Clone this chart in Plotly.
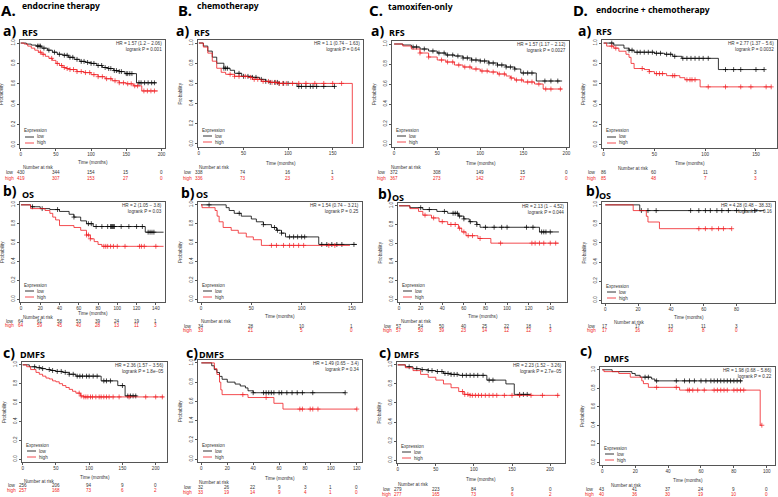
import plotly.graph_objects as go

W, H = 778, 497

# ===================== DATA =====================
# ---- A. endocrine therapy ----
A_RFS_low_t = [0, 8, 15, 22, 30, 38, 45, 52, 60, 68, 76, 84, 92, 100, 108, 116, 124, 132, 140, 148, 164.5, 193]
A_RFS_low_s = [1.0, 0.99, 0.98, 0.97, 0.95, 0.93, 0.91, 0.89, 0.88, 0.86, 0.84, 0.82, 0.81, 0.80, 0.78, 0.76, 0.75, 0.73, 0.72, 0.70, 0.61, 0.61]
A_RFS_low_c = [24, 26, 28, 33, 40, 48, 55, 62, 66, 70, 74, 80, 86, 90, 95, 100, 104, 110, 115, 120, 125, 128, 133, 136, 140, 143, 150, 152, 155, 158, 168, 171, 176, 181, 186, 190]
A_RFS_high_t = [0, 5, 10, 15, 20, 25, 30, 35, 40, 45, 50, 55, 60, 65, 70, 80, 90, 100, 110, 120, 130, 140, 150, 160, 172, 195]
A_RFS_high_s = [1.0, 0.99, 0.97, 0.95, 0.93, 0.91, 0.89, 0.87, 0.85, 0.83, 0.80, 0.78, 0.76, 0.75, 0.74, 0.72, 0.71, 0.69, 0.67, 0.65, 0.63, 0.61, 0.60, 0.58, 0.53, 0.53]
A_RFS_high_c = [28, 32, 44, 52, 58, 62, 66, 70, 75, 80, 86, 92, 98, 104, 110, 116, 122, 128, 134, 140, 146, 152, 157, 162, 166, 175, 180, 185, 190]
A_RFS_risk_t = [0, 50, 100, 150, 200]
A_RFS_risk_low = [430, 344, 154, 15, 0]
A_RFS_risk_high = [419, 307, 153, 27, 0]
A_RFS_hr = "HR = 1.57 (1.2 \u2212 2.06)"
A_RFS_p = "logrank P = 0.001"

A_OS_low_t = [0, 10, 20, 30, 40, 50, 55, 62, 68, 75, 129, 148]
A_OS_low_s = [1.0, 0.98, 0.96, 0.95, 0.93, 0.90, 0.87, 0.83, 0.80, 0.77, 0.71, 0.71]
A_OS_low_c = [12, 22, 38, 55, 70, 73, 78, 84, 90, 93, 94, 95, 96, 97, 104, 112, 120, 126, 132, 134, 136, 138]
A_OS_high_t = [0, 10, 25, 30, 33, 36, 40, 55, 62, 68, 72, 76, 80, 84, 148]
A_OS_high_s = [1.0, 0.96, 0.94, 0.91, 0.87, 0.84, 0.78, 0.76, 0.73, 0.68, 0.64, 0.61, 0.58, 0.56, 0.56]
A_OS_high_c = [68, 70, 72, 86, 88, 90, 93, 96, 100, 108, 123, 125, 128, 140]
A_OS_risk_t = [0, 20, 40, 60, 80, 100, 120, 140]
A_OS_risk_low = [64, 61, 58, 53, 39, 24, 19, 1]
A_OS_risk_high = [64, 59, 45, 40, 28, 13, 11, 3]
A_OS_hr = "HR = 2 (1.05 \u2212 3.8)"
A_OS_p = "logrank P = 0.03"

A_DMFS_low_t = [0, 10, 20, 28, 35, 42, 50, 60, 70, 80, 118, 143, 154, 172]
A_DMFS_low_s = [1.0, 0.98, 0.97, 0.96, 0.95, 0.94, 0.93, 0.92, 0.90, 0.88, 0.83, 0.78, 0.67, 0.67]
A_DMFS_low_c = [18, 25, 30, 40, 45, 52, 58, 64, 70, 76, 82, 86, 90, 96, 100, 106, 112, 122, 126, 132, 150, 158, 162, 166, 170]
A_DMFS_high_t = [0, 6, 12, 20, 25, 30, 35, 40, 45, 50, 55, 60, 65, 70, 75, 80, 87, 92, 212]
A_DMFS_high_s = [1.0, 0.98, 0.95, 0.92, 0.90, 0.88, 0.86, 0.85, 0.83, 0.82, 0.80, 0.78, 0.76, 0.74, 0.72, 0.70, 0.67, 0.66, 0.66]
A_DMFS_high_c = [85, 88, 92, 95, 98, 102, 105, 110, 115, 118, 122, 126, 130, 136, 145, 160, 185, 200, 210]
A_DMFS_risk_t = [0, 50, 100, 150, 200]
A_DMFS_risk_low = [256, 206, 94, 9, 0]
A_DMFS_risk_high = [257, 168, 73, 6, 2]
A_DMFS_hr = "HR = 2.36 (1.57 \u2212 3.56)"
A_DMFS_p = "logrank P = 1.8e\u221205"

# ---- B. chemotherapy ----
B_RFS_low_t = [0, 5, 10, 15, 20, 28, 35, 40, 48, 60, 68, 75, 80, 90, 110, 153]
B_RFS_low_s = [1.0, 0.97, 0.92, 0.86, 0.80, 0.75, 0.73, 0.70, 0.67, 0.66, 0.64, 0.62, 0.61, 0.60, 0.57, 0.57]
B_RFS_low_c = [28, 30, 32, 45, 50, 55, 60, 64, 70, 75, 80, 85, 88, 90, 95, 100, 112, 115, 120, 125, 128, 132, 140, 152]
B_RFS_high_t = [0, 5, 10, 15, 20, 25, 30, 40, 55, 60, 70, 80, 90, 172]
B_RFS_high_s = [1.0, 0.96, 0.90, 0.82, 0.75, 0.71, 0.69, 0.67, 0.66, 0.64, 0.62, 0.61, 0.60, 0.0]
B_RFS_high_c = [35, 40, 45, 52, 58, 62, 66, 72, 78, 82, 86, 90, 94, 98, 105, 112, 120, 130, 140, 150, 160]
B_RFS_risk_t = [0, 50, 100, 150]
B_RFS_risk_low = [338, 74, 16, 1]
B_RFS_risk_high = [336, 73, 23, 3]
B_RFS_hr = "HR = 1.1 (0.74 \u2212 1.63)"
B_RFS_p = "logrank P = 0.64"

B_OS_low_t = [0, 25, 28, 33, 40, 50, 55, 62, 70, 75, 80, 84, 117, 155]
B_OS_low_s = [1.0, 0.97, 0.94, 0.91, 0.88, 0.85, 0.82, 0.79, 0.76, 0.73, 0.70, 0.66, 0.58, 0.58]
B_OS_low_c = [8, 38, 62, 73, 76, 80, 88, 92, 96, 100, 103, 120, 125, 130, 135, 140, 152]
B_OS_high_t = [0, 1, 14, 16, 18, 22, 30, 37, 45, 52, 60, 148]
B_OS_high_s = [1.0, 0.97, 0.94, 0.88, 0.82, 0.76, 0.73, 0.70, 0.66, 0.63, 0.57, 0.57]
B_OS_high_c = [70, 75, 82, 88, 92, 97, 102, 127, 133]
B_OS_risk_t = [0, 50, 100, 150]
B_OS_risk_low = [34, 28, 10, 1]
B_OS_risk_high = [33, 21, 5, 0]
B_OS_hr = "HR = 1.54 (0.74 \u2212 3.21)"
B_OS_p = "logrank P = 0.25"

B_DMFS_low_t = [0, 8, 10, 12, 14, 16, 20, 26, 30, 34, 36, 40, 111]
B_DMFS_low_s = [1.0, 0.97, 0.93, 0.90, 0.86, 0.83, 0.80, 0.78, 0.76, 0.74, 0.71, 0.69, 0.69]
B_DMFS_low_c = [40, 48, 50, 52, 54, 56, 60, 62, 66, 70, 74, 78, 86, 111]
B_DMFS_high_t = [0, 10, 12, 14, 15, 16, 36, 56, 63, 120]
B_DMFS_high_s = [1.0, 0.94, 0.88, 0.80, 0.72, 0.67, 0.64, 0.58, 0.52, 0.52]
B_DMFS_high_c = [32, 50, 76, 78, 84, 86, 90, 120]
B_DMFS_risk_t = [0, 20, 40, 60, 80, 100, 120]
B_DMFS_risk_low = [32, 26, 22, 9, 3, 1, 0]
B_DMFS_risk_high = [33, 19, 14, 9, 4, 1, 0]
B_DMFS_hr = "HR = 1.49 (0.65 \u2212 3.4)"
B_DMFS_p = "logrank P = 0.34"

# ---- C. tamoxifen-only ----
C_RFS_low_t = [0, 10, 20, 30, 40, 50, 60, 70, 80, 90, 100, 110, 120, 130, 140, 147, 165, 195]
C_RFS_low_s = [1.0, 0.99, 0.97, 0.95, 0.93, 0.91, 0.89, 0.88, 0.86, 0.84, 0.83, 0.81, 0.79, 0.77, 0.75, 0.71, 0.63, 0.63]
C_RFS_low_c = [22, 26, 35, 45, 52, 58, 62, 68, 74, 80, 85, 90, 95, 100, 105, 110, 115, 120, 125, 130, 135, 140, 150, 155, 160, 175, 182, 190]
C_RFS_high_t = [0, 10, 20, 30, 40, 50, 60, 70, 80, 90, 100, 110, 120, 130, 135, 140, 150, 163, 173, 195]
C_RFS_high_s = [1.0, 0.98, 0.95, 0.91, 0.87, 0.84, 0.82, 0.79, 0.77, 0.75, 0.73, 0.72, 0.70, 0.68, 0.66, 0.64, 0.62, 0.60, 0.55, 0.55]
C_RFS_high_c = [30, 40, 55, 62, 68, 75, 82, 88, 95, 102, 108, 115, 122, 128, 136, 142, 148, 155, 160, 168, 176, 182, 193]
C_RFS_risk_t = [0, 50, 100, 150, 200]
C_RFS_risk_low = [372, 308, 149, 15, 0]
C_RFS_risk_high = [367, 273, 142, 27, 0]
C_RFS_hr = "HR = 1.57 (1.17 \u2212 2.12)"
C_RFS_p = "logrank P = 0.0027"

C_OS_low_t = [0, 10, 22, 35, 45, 55, 60, 65, 72, 75, 130, 148]
C_OS_low_s = [1.0, 0.98, 0.96, 0.94, 0.92, 0.89, 0.86, 0.83, 0.80, 0.77, 0.72, 0.72]
C_OS_low_c = [20, 28, 42, 50, 52, 54, 56, 60, 66, 72, 80, 88, 95, 100, 118, 124, 132, 134, 136, 140]
C_OS_high_t = [0, 10, 18, 22, 30, 37, 45, 55, 58, 62, 73, 85, 148]
C_OS_high_s = [1.0, 0.97, 0.94, 0.90, 0.87, 0.83, 0.80, 0.76, 0.72, 0.68, 0.65, 0.60, 0.60]
C_OS_high_c = [24, 32, 40, 48, 52, 56, 60, 64, 68, 75, 94, 123, 126, 130, 134, 140, 145]
C_OS_risk_t = [0, 20, 40, 60, 80, 100, 120, 140]
C_OS_risk_low = [57, 54, 50, 40, 25, 22, 18, 1]
C_OS_risk_high = [57, 50, 39, 23, 14, 12, 12, 3]
C_OS_hr = "HR = 2.13 (1 \u2212 4.52)"
C_OS_p = "logrank P = 0.044"

C_DMFS_low_t = [0, 10, 20, 30, 40, 50, 60, 70, 80, 117, 142, 153, 175]
C_DMFS_low_s = [1.0, 0.98, 0.96, 0.95, 0.94, 0.93, 0.91, 0.90, 0.89, 0.84, 0.80, 0.69, 0.69]
C_DMFS_low_c = [15, 25, 32, 40, 45, 52, 58, 62, 66, 70, 74, 78, 85, 90, 95, 100, 105, 112, 120, 125, 160, 165, 170]
C_DMFS_high_t = [0, 10, 20, 30, 40, 50, 60, 70, 80, 87, 95, 212]
C_DMFS_high_s = [1.0, 0.97, 0.94, 0.90, 0.87, 0.84, 0.80, 0.76, 0.72, 0.69, 0.68, 0.68]
C_DMFS_high_c = [85, 88, 92, 95, 98, 102, 106, 110, 115, 120, 125, 130, 140, 150, 160, 175, 190, 210]
C_DMFS_risk_t = [0, 50, 100, 150, 200]
C_DMFS_risk_low = [279, 223, 84, 9, 0]
C_DMFS_risk_high = [277, 165, 73, 6, 2]
C_DMFS_hr = "HR = 2.23 (1.52 \u2212 3.26)"
C_DMFS_p = "logrank P = 2.7e\u221205"

# ---- D. endocrine + chemotherapy ----
D_RFS_low_t = [0, 10, 20, 25, 30, 50, 60, 68, 77, 113, 158]
D_RFS_low_s = [1.0, 0.98, 0.95, 0.93, 0.91, 0.90, 0.89, 0.87, 0.85, 0.74, 0.74]
D_RFS_low_c = [8, 25, 28, 33, 36, 40, 44, 48, 52, 56, 62, 66, 70, 78, 82, 86, 90, 94, 98, 103, 120, 128, 135, 150, 158]
D_RFS_high_t = [0, 3, 10, 15, 22, 25, 27, 30, 40, 45, 50, 62, 75, 80, 95, 165]
D_RFS_high_s = [1.0, 0.97, 0.95, 0.92, 0.89, 0.86, 0.80, 0.75, 0.74, 0.72, 0.70, 0.68, 0.66, 0.64, 0.57, 0.57]
D_RFS_high_c = [8, 12, 38, 45, 52, 55, 58, 68, 70, 82, 85, 87, 90, 103, 120, 135, 145, 160, 165]
D_RFS_risk_t = [0, 50, 100, 150]
D_RFS_risk_low = [86, 60, 11, 3]
D_RFS_risk_high = [85, 48, 7, 3]
D_RFS_hr = "HR = 2.77 (1.37 \u2212 5.6)"
D_RFS_p = "logrank P = 0.0032"

D_OS_low_t = [0, 21, 97]
D_OS_low_s = [1.0, 0.94, 0.94]
D_OS_low_c = [22, 26, 31, 52, 57, 61, 64, 68, 71, 75, 80, 85, 91]
D_OS_high_t = [0, 17, 25, 26, 33, 77]
D_OS_high_s = [1.0, 0.94, 0.88, 0.82, 0.75, 0.75]
D_OS_high_c = [57, 61, 65, 69, 72, 77]
D_OS_risk_t = [0, 20, 40, 60, 80]
D_OS_risk_low = [17, 17, 13, 11, 3]
D_OS_risk_high = [17, 16, 10, 8, 0]
D_OS_hr = "HR = 4.28 (0.48 \u2212 38.33)"
D_OS_p = "logrank P = 0.16"

D_DMFS_low_t = [0, 6, 18, 20, 23, 30, 32, 85]
D_DMFS_low_s = [1.0, 0.98, 0.96, 0.94, 0.92, 0.90, 0.88, 0.88]
D_DMFS_low_c = [26, 28, 33, 45, 50, 53, 56, 60, 63, 66, 68, 70, 72, 74, 76, 78, 80, 82, 84]
D_DMFS_high_t = [0, 1, 10, 17, 24, 25, 28, 47, 96, 97]
D_DMFS_high_s = [1.0, 0.98, 0.96, 0.92, 0.88, 0.85, 0.81, 0.78, 0.40, 0.40]
D_DMFS_high_c = [33, 45, 52, 53, 55, 58, 62, 68, 70, 72, 74, 76, 80, 82, 84, 86, 97]
D_DMFS_risk_t = [0, 20, 40, 60, 80, 100]
D_DMFS_risk_low = [43, 41, 37, 24, 9, 0]
D_DMFS_risk_high = [40, 36, 30, 19, 10, 0]
D_DMFS_hr = "HR = 1.98 (0.68 \u2212 5.86)"
D_DMFS_p = "logrank P = 0.22"

Y_TICKS = [0.0, 0.2, 0.4, 0.6, 0.8, 1.0]
Y_TICK_TEXT = ["0.0", "0.2", "0.4", "0.6", "0.8", "1.0"]

GROUP_TITLES = ["endocrine therapy", "chemotherapy", "tamoxifen-only", "endocrine + chemotherapy"]
GROUP_LETTERS = ["A.", "B.", "C.", "D."]
ROW_LETTERS = ["a)", "b)", "c)"]
ROW_NAMES = ["RFS", "OS", "DMFS"]

PANELS = ["A_RFS", "A_OS", "A_DMFS", "B_RFS", "B_OS", "B_DMFS",
          "C_RFS", "C_OS", "C_DMFS", "D_RFS", "D_OS", "D_DMFS"]

# ===================== LAYOUT (pixel geometry) =====================
GEOM = {
    "A_RFS":  dict(box=(20, 165, 40, 148),  xr=(-1, 205),    time=162, nar=167, low=172, high=178, ndx=2),
    "A_OS":   dict(box=(20, 165, 202, 302), xr=(-1, 149.5),  time=313, nar=317, low=321, high=325, ndx=2),
    "A_DMFS": dict(box=(22, 167, 362, 462), xr=(-1, 217),    time=477, nar=481, low=485, high=490, ndx=1),
    "B_RFS":  dict(box=(198, 363, 40, 147), xr=(-1, 184),    time=163, nar=167, low=173, high=178, ndx=0),
    "B_OS":   dict(box=(198, 362, 202, 302), xr=(-3, 160),   time=316, nar=321, low=326, high=330, ndx=2),
    "B_DMFS": dict(box=(198, 362, 360, 462), xr=(-2.6, 124), time=478, nar=482, low=487, high=492, ndx=0),
    "C_RFS":  dict(box=(392, 569, 41, 147), xr=(-2.5, 203),  time=163, nar=167, low=173, high=178, ndx=-2),
    "C_OS":   dict(box=(398, 567, 203, 302), xr=(-1, 155.5), time=316, nar=321, low=326, high=330, ndx=2),
    "C_DMFS": dict(box=(397, 565, 362, 463), xr=(-1, 219.6), time=479, nar=484, low=489, high=494, ndx=0),
    "D_RFS":  dict(box=(602, 777, 40, 148), xr=(-1.6, 170.7), time=163, nar=168, low=172, high=178, ndx=15),
    "D_OS":   dict(box=(602, 775, 202, 303), xr=(-2, 103.4), time=317, nar=322, low=326, high=330, ndx=11),
    "D_DMFS": dict(box=(600, 775, 367, 465), xr=(-1.4, 105), time=480, nar=485, low=489, high=494, ndx=10),
}

# header positions: (x_left_px, y_center_px)
BIG_LETTER_POS = [(0, 10), (177, 10), (368, 10), (572, 10)]
TITLE_POS = [(21, 6), (196, 6), (387, 7), (595, 9)]
ROW_LETTER_POS = {
    "A_RFS": (2, 31), "B_RFS": (175, 31), "C_RFS": (370, 31), "D_RFS": (577, 31),
    "A_OS": (2, 191), "B_OS": (180, 192), "C_OS": (377, 193), "D_OS": (585, 191),
    "A_DMFS": (2, 352), "B_DMFS": (185, 352), "C_DMFS": (378, 352), "D_DMFS": (579, 350),
}
ROW_NAME_POS = {
    "A_RFS": (21, 33), "B_RFS": (193, 33), "C_RFS": (388, 33), "D_RFS": (595, 32),
    "A_OS": (21, 194), "B_OS": (195, 194), "C_OS": (391, 197), "D_OS": (598, 195),
    "A_DMFS": (19, 354), "B_DMFS": (198, 354), "C_DMFS": (393, 354), "D_DMFS": (603, 358),
}

SMALL = "Liberation Sans, Arial, sans-serif"
HEAD = "Noto Sans, Open Sans, sans-serif"
RED = "#f01e23"
TXT = "#333333"
FS = 4.6


def surv_at(ts, ss, t):
    v = ss[0]
    for a, b in zip(ts, ss):
        if a <= t:
            v = b
        else:
            break
    return v


def py(p):
    return 1 - p / H


def px(p):
    return p / W


fig = go.Figure()
ann = []
shapes = []
layout_axes = {}

for i, key in enumerate(PANELS):
    n = i + 1
    xa = "x" if n == 1 else f"x{n}"
    ya = "y" if n == 1 else f"y{n}"
    g = GEOM[key]
    bx0, bx1, by0, by1 = g["box"]
    bw, bh = bx1 - bx0, by1 - by0
    G = globals()

    for grp, col in (("low", "black"), ("high", RED)):
        ts = G[f"{key}_{grp}_t"]
        ss = G[f"{key}_{grp}_s"]
        cs = G[f"{key}_{grp}_c"]
        fig.add_trace(go.Scatter(x=ts, y=ss, mode="lines",
                                 line=dict(color=col, width=0.8, shape="hv"),
                                 xaxis=xa, yaxis=ya, showlegend=False, hoverinfo="skip"))
        fig.add_trace(go.Scatter(x=cs, y=[surv_at(ts, ss, c) for c in cs], mode="markers",
                                 marker=dict(symbol="cross-thin", size=3.5, color=col,
                                             line=dict(color=col, width=0.7)),
                                 xaxis=xa, yaxis=ya, showlegend=False, hoverinfo="skip"))

    rt = G[f"{key}_risk_t"]
    axstyle = dict(showline=True, mirror=True, linecolor="#555", linewidth=0.7,
                   ticks="outside", ticklen=2, tickwidth=0.6, tickcolor="#555",
                   showgrid=False, zeroline=False,
                   tickfont=dict(family=SMALL, size=FS, color=TXT))
    layout_axes["xaxis" if n == 1 else f"xaxis{n}"] = dict(
        domain=[px(bx0), px(bx1)], range=list(g["xr"]), anchor=ya,
        tickvals=rt, ticktext=[str(v) for v in rt], **axstyle)
    layout_axes["yaxis" if n == 1 else f"yaxis{n}"] = dict(
        domain=[py(by1), py(by0)], range=[-0.03, 1.03], anchor=xa,
        tickvals=Y_TICKS, ticktext=Y_TICK_TEXT, tickangle=-90, **axstyle)

    xd, yd = f"{xa} domain", f"{ya} domain"
    f5 = dict(family=SMALL, size=FS, color=TXT)
    # HR / logrank
    ann.append(dict(xref=xd, yref=yd, x=1, y=1, xshift=-2, yshift=0,
                    xanchor="right", yanchor="top", align="right", showarrow=False,
                    borderpad=0, text=G[f"{key}_hr"] + "<br>" + G[f"{key}_p"], font=f5))
    # axis titles
    ann.append(dict(xref=xd, yref=yd, x=0, y=0.5, xshift=-18, textangle=-90,
                    xanchor="center", yanchor="middle", showarrow=False, borderpad=0,
                    text="Probability", font=f5))
    ann.append(dict(xref=xd, yref="paper", x=0.5, y=py(g["time"]),
                    xanchor="center", yanchor="middle", showarrow=False, borderpad=0,
                    text="Time (months)", font=f5))
    ann.append(dict(xref=xd, yref="paper", x=0, xshift=g["ndx"], y=py(g["nar"]),
                    xanchor="left", yanchor="middle", showarrow=False, borderpad=0,
                    text="Number at risk", font=f5))
    # risk table
    for grp, col, ykey in (("low", TXT, "low"), ("high", RED, "high")):
        ann.append(dict(xref=xd, yref="paper", x=0, xshift=-5, y=py(g[ykey]),
                        xanchor="right", yanchor="middle", showarrow=False, borderpad=0,
                        text=grp, font=dict(family=SMALL, size=FS, color=col)))
        for t, v in zip(rt, G[f"{key}_risk_{grp}"]):
            ann.append(dict(xref=xa, yref="paper", x=t, y=py(g[ykey]),
                            xanchor="center", yanchor="middle", showarrow=False, borderpad=0,
                            text=str(v), font=dict(family=SMALL, size=FS, color=col)))
    # legend (Expression)
    ann.append(dict(xref=xd, yref=yd, x=3 / bw, y=17 / bh, xanchor="left", yanchor="middle",
                    showarrow=False, borderpad=0, text="Expression", font=f5))
    for grp, col, off in (("low", "black", 11), ("high", RED, 5)):
        shapes.append(dict(type="line", xref=xd, yref=yd, x0=5 / bw, x1=14 / bw,
                           y0=off / bh, y1=off / bh, line=dict(color=col, width=0.8)))
        ann.append(dict(xref=xd, yref=yd, x=16 / bw, y=off / bh, xanchor="left", yanchor="middle",
                        showarrow=False, borderpad=0, text=grp, font=f5))
    # row label
    lx, ly = ROW_LETTER_POS[key]
    ann.append(dict(xref="paper", yref="paper", x=px(lx), y=py(ly), xanchor="left", yanchor="middle",
                    showarrow=False, borderpad=0, text="<b>" + ROW_LETTERS[i % 3] + "</b>",
                    font=dict(family=HEAD, size=14, color="black")))
    nx, ny = ROW_NAME_POS[key]
    ann.append(dict(xref="paper", yref="paper", x=px(nx), y=py(ny), xanchor="left", yanchor="middle",
                    showarrow=False, borderpad=0, text="<b>" + ROW_NAMES[i % 3] + "</b>",
                    font=dict(family=HEAD, size=9, color="black")))

for k in range(4):
    bxp, byp = BIG_LETTER_POS[k]
    ann.append(dict(xref="paper", yref="paper", x=px(bxp), y=py(byp), xanchor="left", yanchor="middle",
                    showarrow=False, borderpad=0, text="<b>" + GROUP_LETTERS[k] + "</b>",
                    font=dict(family=HEAD, size=15, color="black")))
    tx, ty = TITLE_POS[k]
    ann.append(dict(xref="paper", yref="paper", x=px(tx), y=py(ty), xanchor="left", yanchor="middle",
                    showarrow=False, borderpad=0, text="<b>" + GROUP_TITLES[k] + "</b>",
                    font=dict(family=HEAD, size=8.5, color="black")))

fig.update_layout(width=W, height=H, margin=dict(l=0, r=0, t=0, b=0, autoexpand=False),
                  paper_bgcolor="white", plot_bgcolor="white", showlegend=False,
                  annotations=ann, shapes=shapes, **layout_axes)

fig.write_html("out.html", config={"displayModeBar": False},
               post_script="document.body.style.margin='0px';document.body.style.overflow='hidden';")
